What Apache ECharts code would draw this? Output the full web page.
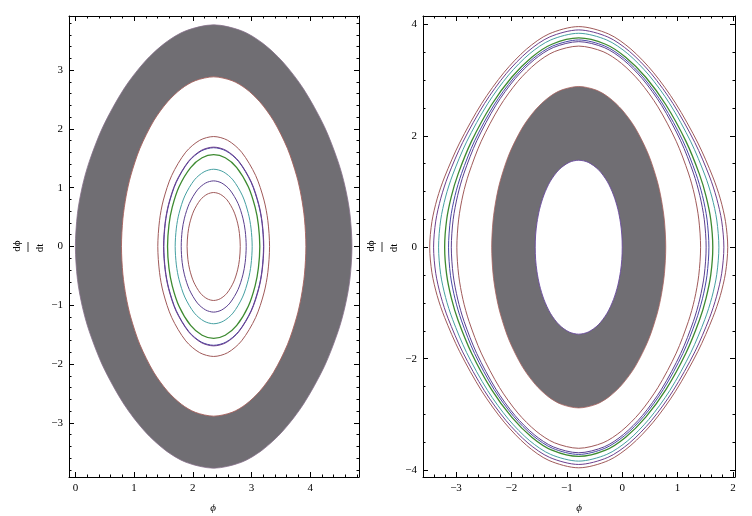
<!DOCTYPE html>
<html><head><meta charset="utf-8">
<script src="https://cdn.jsdelivr.net/npm/echarts@6.0.0/dist/echarts.min.js"></script>
<style>html,body{margin:0;padding:0;background:#fff}#c{width:752px;height:516px}</style>
</head><body><div id="c"></div><script>
// ---------- LEFT PANEL (upper halves of closed orbits, left to right: phi, dphi/dt) ----------
const leftBandOuterPhi = [0.000, 0.035, 0.118, 0.236, 0.471, 0.825, 1.178, 1.531, 1.885, 2.356, 2.827, 3.181, 3.534, 3.887, 4.241, 4.476, 4.594, 4.677, 4.712];
const leftBandOuterV   = [0, 0.559, 1.021, 1.443, 2.041, 2.679, 3.139, 3.464, 3.670, 3.770, 3.670, 3.464, 3.139, 2.679, 2.041, 1.443, 1.021, 0.559, 0];
const leftBandInnerPhi = [0.785, 0.809, 0.864, 0.942, 1.099, 1.335, 1.571, 1.806, 2.042, 2.356, 2.670, 2.906, 3.141, 3.377, 3.613, 3.770, 3.848, 3.903, 3.927];
const leftBandInnerV   = [0, 0.471, 0.855, 1.200, 1.668, 2.139, 2.462, 2.683, 2.820, 2.885, 2.820, 2.683, 2.462, 2.139, 1.668, 1.200, 0.855, 0.471, 0];

const phiL1 = [1.903, 1.917, 1.948, 2.016, 2.129, 2.243, 2.356, 2.469, 2.583, 2.696, 2.764, 2.795, 2.809];
const vL1   = [0, 0.222, 0.397, 0.604, 0.793, 0.888, 0.918, 0.888, 0.793, 0.604, 0.397, 0.222, 0];
const phiL2 = [1.803, 1.819, 1.858, 1.941, 2.079, 2.218, 2.356, 2.494, 2.633, 2.771, 2.854, 2.893, 2.910];
const vL2   = [0, 0.269, 0.482, 0.732, 0.962, 1.079, 1.116, 1.079, 0.962, 0.732, 0.482, 0.269, 0];
const phiL3 = [1.700, 1.720, 1.766, 1.864, 2.028, 2.192, 2.356, 2.520, 2.684, 2.848, 2.946, 2.992, 3.012];
const vL3   = [0, 0.313, 0.564, 0.860, 1.133, 1.270, 1.314, 1.270, 1.133, 0.860, 0.564, 0.313, 0];
const phiL4 = [1.570, 1.594, 1.649, 1.766, 1.963, 2.159, 2.356, 2.553, 2.749, 2.946, 3.063, 3.118, 3.142];
const vL4   = [0, 0.365, 0.664, 1.016, 1.343, 1.509, 1.561, 1.509, 1.343, 1.016, 0.664, 0.365, 0];
const phiL5 = [1.507, 1.532, 1.592, 1.719, 1.931, 2.144, 2.356, 2.568, 2.781, 2.993, 3.120, 3.180, 3.205];
const vL5   = [0, 0.396, 0.714, 1.092, 1.444, 1.624, 1.680, 1.624, 1.444, 1.092, 0.714, 0.396, 0];
const phiL6 = [1.502, 1.528, 1.587, 1.715, 1.929, 2.142, 2.356, 2.570, 2.783, 2.997, 3.125, 3.184, 3.210];
const vL6   = [0, 0.397, 0.718, 1.098, 1.452, 1.633, 1.690, 1.633, 1.452, 1.098, 0.718, 0.397, 0];
const phiL7 = [1.404, 1.433, 1.499, 1.642, 1.880, 2.118, 2.356, 2.594, 2.832, 3.070, 3.213, 3.279, 3.308];
const vL7   = [0, 0.439, 0.790, 1.210, 1.604, 1.806, 1.870, 1.806, 1.604, 1.210, 0.790, 0.439, 0];

// ---------- RIGHT PANEL ----------
const rightBandOuterPhi = [-2.356, -2.332, -2.277, -2.199, -2.042, -1.806, -1.570, -1.335, -1.099, -0.785, -0.471, -0.235, 0.000, 0.236, 0.472, 0.629, 0.707, 0.762, 0.786];
const rightBandOuterV   = [0, 0.471, 0.855, 1.200, 1.668, 2.139, 2.462, 2.683, 2.820, 2.885, 2.820, 2.683, 2.462, 2.139, 1.668, 1.200, 0.855, 0.471, 0];
const rightBandInnerPhi = [-1.570, -1.563, -1.539, -1.492, -1.413, -1.296, -1.138, -0.958, -0.785, -0.612, -0.432, -0.274, -0.157, -0.078, -0.031, -0.007, 0.000];
const rightBandInnerV   = [0, 0.219, 0.437, 0.681, 0.937, 1.186, 1.394, 1.522, 1.561, 1.522, 1.394, 1.186, 0.937, 0.681, 0.437, 0.219, 0];

const phiR1 = [-2.985, -2.952, -2.875, -2.765, -2.545, -2.215, -1.885, -1.555, -1.225, -0.785, -0.345, -0.015, 0.315, 0.645, 0.975, 1.195, 1.305, 1.382, 1.415];
const vR1   = [0, 0.504, 0.938, 1.331, 1.901, 2.519, 2.975, 3.301, 3.510, 3.610, 3.510, 3.301, 2.975, 2.519, 1.901, 1.331, 0.938, 0.504, 0];
const phiR2 = [-3.085, -3.051, -2.970, -2.855, -2.625, -2.280, -1.935, -1.590, -1.245, -0.785, -0.325, 0.020, 0.365, 0.710, 1.055, 1.285, 1.400, 1.481, 1.515];
const vR2   = [0, 0.501, 0.931, 1.331, 1.910, 2.548, 3.022, 3.364, 3.584, 3.690, 3.584, 3.364, 3.022, 2.548, 1.910, 1.331, 0.931, 0.501, 0];
const phiR3 = [-3.135, -3.100, -3.018, -2.900, -2.665, -2.313, -1.960, -1.608, -1.255, -0.785, -0.315, 0.038, 0.390, 0.743, 1.095, 1.330, 1.448, 1.530, 1.565];
const vR3   = [0, 0.505, 0.926, 1.323, 1.908, 2.553, 3.036, 3.386, 3.611, 3.720, 3.611, 3.386, 3.036, 2.553, 1.908, 1.323, 0.926, 0.505, 0];
const phiR4 = [-3.205, -3.169, -3.084, -2.963, -2.721, -2.358, -1.995, -1.632, -1.269, -0.785, -0.301, 0.062, 0.425, 0.788, 1.151, 1.393, 1.514, 1.599, 1.635];
const vR4   = [0, 0.493, 0.913, 1.312, 1.899, 2.557, 3.050, 3.410, 3.643, 3.756, 3.643, 3.410, 3.050, 2.557, 1.899, 1.312, 0.913, 0.493, 0];
const phiR5 = [-3.315, -3.277, -3.189, -3.062, -2.809, -2.430, -2.050, -1.671, -1.291, -0.785, -0.279, 0.101, 0.480, 0.860, 1.239, 1.492, 1.619, 1.707, 1.745];
const vR5   = [0, 0.487, 0.900, 1.295, 1.891, 2.572, 3.091, 3.473, 3.720, 3.840, 3.720, 3.473, 3.091, 2.572, 1.891, 1.295, 0.900, 0.487, 0];
const phiR6 = [-3.405, -3.366, -3.274, -3.143, -2.881, -2.488, -2.095, -1.702, -1.309, -0.785, -0.261, 0.132, 0.525, 0.918, 1.311, 1.573, 1.704, 1.796, 1.835];
const vR6   = [0, 0.468, 0.880, 1.278, 1.879, 2.576, 3.115, 3.514, 3.774, 3.900, 3.774, 3.514, 3.115, 2.576, 1.879, 1.278, 0.880, 0.468, 0];
const phiR7 = [-3.475, -3.435, -3.341, -3.206, -2.937, -2.534, -2.130, -1.727, -1.323, -0.785, -0.247, 0.157, 0.560, 0.963, 1.367, 1.636, 1.771, 1.865, 1.905];
const vR7   = [0, 0.459, 0.868, 1.261, 1.869, 2.585, 3.141, 3.556, 3.828, 3.960, 3.828, 3.556, 3.141, 2.585, 1.869, 1.261, 0.868, 0.459, 0];

// ---------- ticks ----------
const leftXTicks  = [0, 1, 2, 3, 4];
const leftYTicks  = [-3, -2, -1, 0, 1, 2, 3];
const rightXTicks = [-3, -2, -1, 0, 1, 2];
const rightYTicks = [-4, -2, 0, 2, 4];

// ---------- styling ----------
const COL = {brown:'#a05a5a', purple:'#5b408f', teal:'#45a0a2', green:'#3d8a30', blue:'#4848a6', violet:'#6c3f8e'};
const BAND = '#706e73';
const FONT = {fontFamily:'Liberation Serif', fontSize:11, color:'#000'};

function loop(phi, v) {
  const pts = phi.map((p, i) => [p, v[i]]);
  for (let i = phi.length - 2; i >= 1; i--) pts.push([phi[i], -v[i]]);
  return pts;
}
function minors(min, max, step, majors) {
  const out = [];
  for (let k = Math.ceil(min / step); k * step <= max; k++) {
    const v = +(k * step).toFixed(3);
    if (!majors.includes(v)) out.push(v);
  }
  return out;
}
const fmt = v => String(v).replace('-', '\u2212');

function axes(dim, g, min, max, major, minor) {
  const p1 = dim === 'x' ? 'bottom' : 'left', p2 = dim === 'x' ? 'top' : 'right';
  const base = {type:'value', gridIndex:g, min, max, splitLine:{show:false}, z:5};
  const line = {show:true, onZero:false, lineStyle:{color:'#000', width:1}};
  const noLine = {show:false, onZero:false};
  const tk = (vals, len) => ({show:true, inside:true, length:len, customValues:vals, lineStyle:{color:'#000', width:1}});
  return [
    Object.assign({}, base, {position:p1, axisLine:line, axisTick:tk(major, 5),
      axisLabel:Object.assign({show:true, customValues:major, formatter:fmt, margin:6}, FONT)}),
    Object.assign({}, base, {position:p1, axisLine:noLine, axisTick:tk(minor, 2.5), axisLabel:{show:false}}),
    Object.assign({}, base, {position:p2, axisLine:line, axisTick:tk(major, 5), axisLabel:{show:false}}),
    Object.assign({}, base, {position:p2, axisLine:noLine, axisTick:tk(minor, 2.5), axisLabel:{show:false}})
  ];
}

const L = {xmin:-0.109, xmax:4.832, ymin:-3.92, ymax:3.92};
const R = {xmin:-3.596, xmax:2.036, ymin:-4.125, ymax:4.15};

const leftShapes = [
  {pts:loop(leftBandOuterPhi, leftBandOuterV), fill:BAND, stroke:'#86708a', w:0.8},
  {pts:loop(leftBandInnerPhi, leftBandInnerV), fill:'#ffffff', stroke:'#a8625e', w:0.9},
  {pts:loop(phiL1, vL1), fill:'none', stroke:COL.brown, w:1},
  {pts:loop(phiL2, vL2), fill:'none', stroke:COL.purple, w:1},
  {pts:loop(phiL3, vL3), fill:'none', stroke:COL.teal, w:1},
  {pts:loop(phiL4, vL4), fill:'none', stroke:COL.green, w:1.3},
  {pts:loop(phiL5, vL5), fill:'none', stroke:COL.blue, w:1},
  {pts:loop(phiL6, vL6), fill:'none', stroke:COL.violet, w:1},
  {pts:loop(phiL7, vL7), fill:'none', stroke:COL.brown, w:1}
];
const rightShapes = [
  {pts:loop(rightBandOuterPhi, rightBandOuterV), fill:BAND, stroke:'#a8625e', w:0.8},
  {pts:loop(rightBandInnerPhi, rightBandInnerV), fill:'#ffffff', stroke:'#6a4a9e', w:0.9},
  {pts:loop(phiR1, vR1), fill:'none', stroke:COL.brown, w:1},
  {pts:loop(phiR2, vR2), fill:'none', stroke:COL.purple, w:1},
  {pts:loop(phiR3, vR3), fill:'none', stroke:COL.blue, w:1},
  {pts:loop(phiR4, vR4), fill:'none', stroke:COL.green, w:1.3},
  {pts:loop(phiR5, vR5), fill:'none', stroke:COL.teal, w:1},
  {pts:loop(phiR6, vR6), fill:'none', stroke:COL.violet, w:1},
  {pts:loop(phiR7, vR7), fill:'none', stroke:COL.brown, w:1}
];

function shapeSeries(xi, yi, shapes) {
  return {
    type:'custom', coordinateSystem:'cartesian2d', xAxisIndex:xi, yAxisIndex:yi,
    silent:true, animation:false, clip:true,
    data:shapes.map((s, i) => [s.pts[0][0], 0, i]),
    encode:{x:0, y:1},
    renderItem(params, api) {
      const s = shapes[params.dataIndex];
      return {type:'polygon', shape:{points:s.pts.map(p => api.coord(p)), smooth:0.3},
              style:{fill:s.fill, stroke:s.stroke, lineWidth:s.w}};
    }
  };
}

function fraction(cx, cy) {
  const ts = {fontFamily:'Liberation Serif', fontSize:11, fill:'#000', align:'center', verticalAlign:'middle'};
  return [
    {type:'text', x:cx - 11, y:cy - 1, rotation:Math.PI / 2, style:Object.assign({text:'d\u03d5'}, ts)},
    {type:'line', shape:{x1:cx, y1:cy - 5, x2:cx, y2:cy + 5}, style:{stroke:'#000', lineWidth:0.8}},
    {type:'text', x:cx + 12, y:cy + 1, rotation:Math.PI / 2, style:Object.assign({text:'dt'}, ts)}
  ];
}

const chart = echarts.init(document.getElementById('c'), null, {renderer:'canvas'});
chart.setOption({
  backgroundColor:'#ffffff',
  animation:false,
  grid:[
    {left:69, top:16, width:290, height:461, containLabel:false},
    {left:423, top:16, width:312, height:461, containLabel:false}
  ],
  xAxis:[].concat(
    axes('x', 0, L.xmin, L.xmax, leftXTicks, minors(L.xmin, L.xmax, 0.2, leftXTicks)),
    axes('x', 1, R.xmin, R.xmax, rightXTicks, minors(R.xmin, R.xmax, 0.2, rightXTicks))
  ),
  yAxis:[].concat(
    axes('y', 0, L.ymin, L.ymax, leftYTicks, minors(L.ymin, L.ymax, 0.2, leftYTicks)),
    axes('y', 1, R.ymin, R.ymax, rightYTicks, minors(R.ymin, R.ymax, 0.5, rightYTicks))
  ),
  series:[shapeSeries(0, 0, leftShapes), shapeSeries(4, 4, rightShapes)],
  graphic:[].concat(
    fraction(28, 247),
    fraction(382, 247),
    [
      {type:'text', x:213, y:508, style:{text:'\u03d5', fontFamily:'Liberation Serif', fontStyle:'italic', fontSize:11, fill:'#000', align:'center', verticalAlign:'middle'}},
      {type:'text', x:579, y:508, style:{text:'\u03d5', fontFamily:'Liberation Serif', fontStyle:'italic', fontSize:11, fill:'#000', align:'center', verticalAlign:'middle'}}
    ]
  )
});
</script></body></html>
